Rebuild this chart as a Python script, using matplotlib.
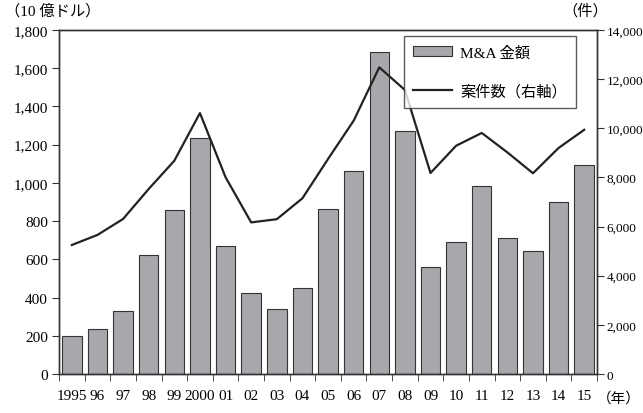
import matplotlib
matplotlib.use("Agg")
import matplotlib.pyplot as plt
import numpy as np

plt.rcParams['font.family'] = ['Liberation Serif', 'Noto Sans CJK JP']

years = ["1995", "96", "97", "98", "99", "2000", "01", "02", "03", "04", "05",
         "06", "07", "08", "09", "10", "11", "12", "13", "14", "15"]
amount = [197, 235, 331, 624, 857, 1237, 668, 426, 340, 450, 862,
          1061, 1684, 1272, 559, 691, 983, 710, 646, 899, 1096]
deals = [5250, 5660, 6310, 7530, 8680, 10620, 8010, 6170, 6300, 7150, 8750,
         10310, 12480, 11560, 8180, 9290, 9810, 9020, 8170, 9200, 9940]

x = np.arange(len(years))

fig = plt.figure(figsize=(6.43, 4.14), dpi=100)
ax = fig.add_axes([0.0918, 0.0942, 0.8367, 0.8309])
ax2 = ax.twinx()

ax.bar(x, amount, width=0.76, color="#a7a8ac", edgecolor="#333333", linewidth=0.8,
       label="M&A 金額", zorder=2)
ax2.plot(x, deals, color="#222222", linewidth=1.6, label="案件数（右軸）")

ax.set_xlim(-0.5, len(years) - 0.5)
ax.set_ylim(0, 1800)
ax2.set_ylim(0, 14000)
ax.set_yticks(np.arange(0, 1801, 200))
ax.set_yticklabels([f"{v:,}" for v in range(0, 1801, 200)])
ax2.set_yticks(np.arange(0, 14001, 2000))
ax2.set_yticklabels([f"{v:,}" for v in range(0, 14001, 2000)])

ax.set_xticks(x)
ax.set_xticklabels(years)
ax.set_xticks(np.arange(-0.5, len(years), 1), minor=True)
ax.tick_params(axis="x", which="major", length=0, pad=11, labelsize=11)
ax.tick_params(axis="x", which="minor", length=5, direction="out", color="#333333")
ax.tick_params(axis="y", length=5, direction="out", labelsize=11, pad=3, color="#333333")
ax2.tick_params(axis="y", length=5, direction="out", labelsize=9.5, pad=2, color="#333333")

for a in (ax, ax2):
    for s in a.spines.values():
        s.set_color("#333333")
        s.set_linewidth(1.0)

ax.set_zorder(ax2.get_zorder() - 1)
ax.patch.set_visible(False)

fig.text(0.008, 0.955, "（10 億ドル）", fontsize=11, ha="left", va="bottom")
fig.text(0.945, 0.955, "（件）", fontsize=11, ha="right", va="bottom")
fig.text(0.928, 0.038, "（年）", fontsize=10.5, ha="left", va="center")

h1, l1 = ax.get_legend_handles_labels()
h2, l2 = ax2.get_legend_handles_labels()
leg = ax2.legend(h1 + h2, l1 + l2, loc="upper right", bbox_to_anchor=(0.961, 0.983),
                 borderaxespad=0, fancybox=False, edgecolor="#333333", fontsize=11,
                 handlelength=2.6, handletextpad=0.5, labelspacing=1.6, borderpad=0.6)
leg.get_frame().set_linewidth(1.0)

fig.savefig("out.png", dpi=100)
